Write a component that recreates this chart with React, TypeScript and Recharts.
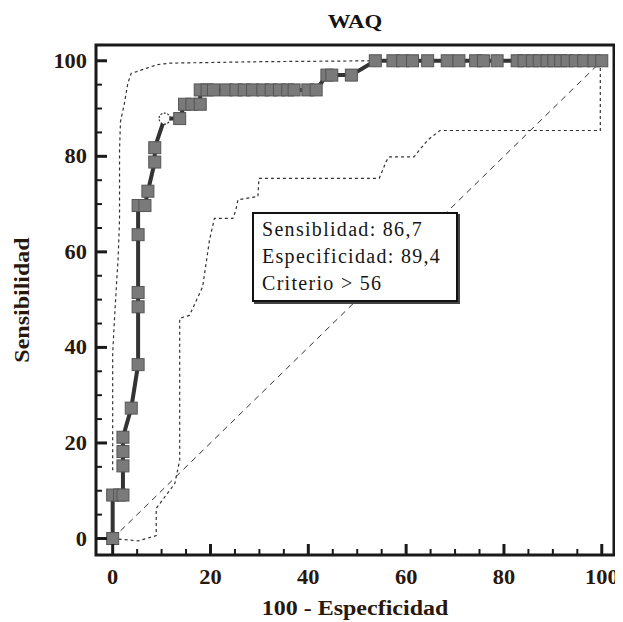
import React from 'react';
import { ComposedChart, XAxis, YAxis, Scatter, ReferenceLine, ReferenceArea } from 'recharts';

// ROC curve: 100 - Specificity (x) and Sensitivity (y)
const rocFpr = [0, 0, 1.4, 2.1, 2.1, 2.1, 2.1, 3.8, 5.2, 5.2, 5.2, 5.2, 5.2, 6.6, 7.2, 8.6, 8.6, 10.6, 13.7, 14.7, 16.2, 17.9, 17.9, 19.3, 20.6, 23.2, 25.2, 26.9, 28.6, 30.7, 32.4, 34.1, 35.8, 37.1, 39.9, 41.6, 43.8, 44.8, 48.8, 53.7, 57.3, 59.3, 61.3, 64.4, 68.4, 70.8, 74.2, 75.8, 78.6, 82.7, 84.1, 85.8, 87.2, 88.8, 90.2, 91.6, 92.9, 94.6, 96.3, 98.4, 100];
const rocSens = [0, 9.1, 9.1, 9.1, 15.2, 18.2, 21.2, 27.3, 36.4, 48.5, 51.5, 63.6, 69.7, 69.7, 72.7, 78.8, 81.8, 87.9, 87.9, 90.9, 90.9, 90.9, 93.9, 93.9, 93.9, 93.9, 93.9, 93.9, 93.9, 93.9, 93.9, 93.9, 93.9, 93.9, 93.9, 93.9, 97.0, 97.0, 97.0, 100, 100, 100, 100, 100, 100, 100, 100, 100, 100, 100, 100, 100, 100, 100, 100, 100, 100, 100, 100, 100, 100];

// Criterion point (open circle)
const criterionFpr = 10.6;
const criterionSens = 87.9;

// Upper confidence bound
const upperFpr = [0, 0, 0.4, 0.75, 1.1, 1.4, 1.4, 1.6, 2.4, 3.1, 3.8, 5.2, 6.5, 9.2, 11.6, 30, 53.7, 100];
const upperSens = [14.3, 38.8, 46.4, 52.7, 58.3, 66.7, 81.3, 87.3, 91.1, 95.3, 97.4, 97.8, 98.3, 99.2, 99.5, 99.8, 100, 100];

// Lower confidence bound
const lowerFpr = [0, 5.2, 8.9, 8.9, 12.7, 13.7, 13.7, 15.7, 18.4, 19.8, 20.8, 24.6, 25.2, 25.6, 29.7, 29.9, 54.5, 55.2, 55.9, 56.5, 61.6, 64.4, 66.9, 99.7, 99.7];
const lowerSens = [0, -0.5, 0.6, 6.3, 11.5, 16.4, 46.1, 46.7, 52.7, 62.5, 67.0, 67.0, 68.8, 70.9, 71.6, 75.4, 75.4, 77.1, 78.9, 79.9, 79.9, 83.4, 85.4, 85.4, 100];

// Axis ticks
const majorTicks = [0, 20, 40, 60, 80, 100];
const allTicks = [0, 5, 10, 15, 20, 25, 30, 35, 40, 45, 50, 55, 60, 65, 70, 75, 80, 85, 90, 95, 100];

const xDomain = [-3.41, 102.5];
const yDomain = [-3.45, 103.3];

const title = 'WAQ';
const xLabel = '100 - Especficidad';
const yLabel = 'Sensibilidad';
const boxLines = ['Sensiblidad: 86,7', 'Especificidad: 89,4', 'Criterio > 56'];

const zip = (xs: number[], ys: number[]) => xs.map((x, i) => ({ x, y: ys[i] }));
const rocData = zip(rocFpr, rocSens);
const upperData = zip(upperFpr, upperSens);
const lowerData = zip(lowerFpr, lowerSens);

const SERIF = "'Liberation Serif', 'Times New Roman', serif";
const LABEL_COLOR = '#2a170b';
const STRETCH = 1.12;
const LABEL_STRETCH = 1.2;

const XTick = (props: any) => {
  const { x, y, payload } = props;
  const v = payload.value;
  const major = majorTicks.includes(v);
  return (
    <g>
      <line x1={x} x2={x} y1={y} y2={y - (major ? 11 : 6)} stroke="#1a1a1a" strokeWidth={major ? 3 : 2} />
      {major && (
        <text transform={`translate(${x},${y + 29}) scale(${STRETCH},1)`} textAnchor="middle" fontFamily={SERIF} fontWeight="bold" fontSize={20} fill={LABEL_COLOR}>
          {v}
        </text>
      )}
    </g>
  );
};

const YTick = (props: any) => {
  const { x, y, payload } = props;
  const v = payload.value;
  const major = majorTicks.includes(v);
  return (
    <g>
      <line x1={x} x2={x + (major ? 11 : 6)} y1={y} y2={y} stroke="#1a1a1a" strokeWidth={major ? 3 : 2} />
      {major && (
        <text transform={`translate(${x - 9},${y + 7}) scale(${STRETCH},1)`} textAnchor="end" fontFamily={SERIF} fontWeight="bold" fontSize={20} fill={LABEL_COLOR}>
          {v}
        </text>
      )}
    </g>
  );
};

const RocMarker = (props: any) => {
  const { cx, cy, payload } = props;
  if (cx == null || cy == null) return <g />;
  if (payload && payload.x === criterionFpr && payload.y === criterionSens) {
    return <circle cx={cx} cy={cy} r={5.5} fill="#ffffff" stroke="#333" strokeWidth={1.2} strokeDasharray="2 1.5" />;
  }
  return <rect x={cx - 6} y={cy - 6} width={12} height={12} fill="#7a7a7a" stroke="#555555" strokeWidth={1} />;
};

const NoMarker = () => <g />;

export default function App() {
  return (
    <div style={{ position: 'relative', width: 615, height: 614, fontFamily: SERIF }}>
      <ComposedChart width={615} height={614} margin={{ top: 37, right: 9, bottom: 37, left: 28 }}>
        <XAxis
          type="number"
          dataKey="x"
          domain={xDomain}
          ticks={allTicks}
          allowDataOverflow
          axisLine={false}
          tickLine={false}
          tickSize={0}
          tickMargin={0}
          height={30}
          interval={0}
          tick={<XTick />}
        />
        <YAxis
          type="number"
          dataKey="y"
          domain={yDomain}
          ticks={allTicks}
          allowDataOverflow
          axisLine={false}
          tickLine={false}
          tickSize={0}
          tickMargin={0}
          width={60}
          interval={0}
          tick={<YTick />}
        />
        <ReferenceArea x1={xDomain[0]} x2={xDomain[1]} y1={yDomain[0]} y2={yDomain[1]} fill="none" stroke="#1a1a1a" strokeWidth={3} ifOverflow="visible" />
        <ReferenceLine segment={[{ x: 0, y: 0 }, { x: 100, y: 100 }]} stroke="#333" strokeWidth={1} strokeDasharray="6 5" ifOverflow="visible" />
        <Scatter data={upperData} line={{ stroke: '#333', strokeWidth: 1.2, strokeDasharray: '3 3' }} shape={<NoMarker />} isAnimationActive={false} />
        <Scatter data={lowerData} line={{ stroke: '#333', strokeWidth: 1.2, strokeDasharray: '3 3' }} shape={<NoMarker />} isAnimationActive={false} />
        <Scatter data={rocData} line={{ stroke: '#333333', strokeWidth: 4 }} shape={<RocMarker />} isAnimationActive={false} />
      </ComposedChart>

      <div style={{ position: 'absolute', left: 347, top: 13, transform: `translate(-50%, -50%) scaleX(${LABEL_STRETCH})`, fontWeight: 'bold', fontSize: 19, lineHeight: 1, whiteSpace: 'nowrap', color: '#141414' }}>
        {title}
      </div>
      <div style={{ position: 'absolute', left: 347, top: 600, transform: `translate(-50%, -50%) scaleX(${LABEL_STRETCH})`, fontWeight: 'bold', fontSize: 20, lineHeight: 1, whiteSpace: 'nowrap', color: LABEL_COLOR }}>
        {xLabel}
      </div>
      <div style={{ position: 'absolute', left: 14, top: 292, transform: `translate(-50%, -50%) rotate(-90deg) scaleX(${LABEL_STRETCH})`, fontWeight: 'bold', fontSize: 20, lineHeight: 1, whiteSpace: 'nowrap', color: LABEL_COLOR }}>
        {yLabel}
      </div>
      <div style={{ position: 'absolute', left: 244, top: 204, width: 206, height: 90, boxSizing: 'border-box', border: '2px solid #111', boxShadow: '2px 2px 0 #444', background: '#fff', padding: '2px 0 0 8px', fontSize: 20, lineHeight: '27px', color: '#161616', whiteSpace: 'nowrap' }}>
        {boxLines.map((t, i) => (
          <div key={i} style={{ letterSpacing: 1.3 }}>{t}</div>
        ))}
      </div>
    </div>
  );
}
